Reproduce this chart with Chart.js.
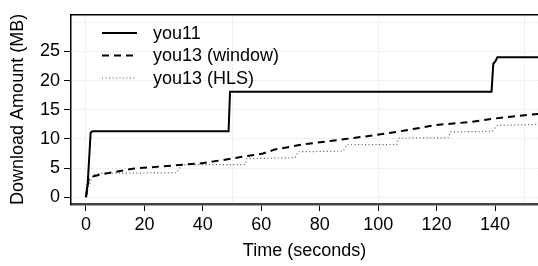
<!DOCTYPE html>
<html lang="en">
<head>
    <meta charset="utf-8" />
    <title>Download Amount</title>
    <script src="https://cdn.jsdelivr.net/npm/chart.js"></script>
    <style>
        html, body { margin: 0; padding: 0; background: #fff; }
    </style>
</head>
<body>
    <canvas id="Chart1" width="538" height="266"></canvas>

    <script>
        // values: [time (s), MB]
        var you11 = [[0, 0], [0.6, 2.5], [1.6, 11.1], [2.2, 11.3], [48.8, 11.3], [49.3, 18.1],
            [138.8, 18.1], [139.4, 22.9], [140.1, 23.3], [140.8, 24], [155, 24]];
        var you13Window = [[0, 0], [1, 3.4], [5, 3.9], [16, 4.9], [39, 5.8], [47, 6.4], [60.6, 7.5],
            [64.7, 8.2], [74.3, 9.05], [86, 9.8], [99.7, 10.7], [108.6, 11.4], [120, 12.4],
            [131.5, 12.9], [142.8, 13.7], [155, 14.3]];
        var you13HLS = [[0, 0], [1, 2], [2, 3.4], [3, 3.9], [5, 4.1], [31, 4.2], [32.8, 5.6],
            [54.5, 5.6], [55, 6.6], [71.6, 6.8], [72.6, 7.8], [88, 7.9], [89.3, 9.0], [106.4, 9.05],
            [107, 10.15], [124, 10.2], [124.7, 11.2], [139, 11.3], [140.6, 12.3], [155, 12.5]];

        var seriesLabels = ['you11', 'you13 (window)', 'you13 (HLS)'];
        var xTicks = [0, 20, 40, 60, 80, 100, 120, 140];
        var xGrid = [0, 50, 100, 150];
        var yTicks = [0, 5, 10, 15, 20, 25, 30];

        Chart.defaults.font.family = "'Liberation Sans', Arial, sans-serif";
        Chart.defaults.font.size = 18;
        Chart.defaults.color = '#000';

        function pts(arr) {
            return arr.map(function (p) { return { x: p[0], y: p[1] }; });
        }

        function setTicks(list) {
            return function (scale) {
                scale.ticks = list.map(function (v) { return { value: v }; });
            };
        }

        // legend drawn inside the plot, top left, like the original
        var insideLegend = {
            id: 'insideLegend',
            afterDatasetsDraw: function (chart) {
                var ctx = chart.ctx;
                ctx.save();
                chart.data.datasets.forEach(function (ds, i) {
                    var y = 33 + i * 22.5;
                    ctx.beginPath();
                    ctx.setLineDash(ds.borderDash || []);
                    ctx.strokeStyle = ds.borderColor;
                    ctx.lineWidth = ds.borderWidth;
                    ctx.moveTo(102, y);
                    ctx.lineTo(137, y);
                    ctx.stroke();
                    ctx.setLineDash([]);
                    ctx.fillStyle = '#000';
                    ctx.font = "18px 'Liberation Sans', Arial, sans-serif";
                    ctx.textBaseline = 'middle';
                    ctx.textAlign = 'left';
                    ctx.fillText(ds.label, 153, y + 1);
                });
                ctx.restore();
            }
        };

        var ctx = document.getElementById('Chart1').getContext('2d');
        var Chart1 = new Chart(ctx, {
            type: 'line',
            data: {
                datasets: [{
                    label: seriesLabels[0],
                    data: pts(you11),
                    borderColor: '#000',
                    borderWidth: 2,
                    fill: false
                }, {
                    label: seriesLabels[1],
                    data: pts(you13Window),
                    borderColor: '#000',
                    borderWidth: 2,
                    borderDash: [7, 5],
                    fill: false
                }, {
                    label: seriesLabels[2],
                    data: pts(you13HLS),
                    borderColor: '#555',
                    borderWidth: 1.2,
                    borderDash: [1, 2.5],
                    fill: false
                }]
            },
            options: {
                responsive: false,
                animation: false,
                devicePixelRatio: 1,
                layout: { padding: { top: 8, right: 0, left: 0, bottom: 0 } },
                elements: { point: { radius: 0 }, line: { tension: 0 } },
                plugins: { legend: { display: false }, tooltip: { enabled: false } },
                scales: {
                    x: {
                        type: 'linear',
                        position: 'bottom',
                        min: -5.13,
                        max: 154.7,
                        afterBuildTicks: setTicks(xTicks),
                        afterFit: function (scale) { scale.height = 62; },
                        grid: { drawOnChartArea: false, drawTicks: true, tickLength: 7, tickColor: '#000', tickWidth: 1 },
                        border: { display: true, color: '#444', width: 2.5 },
                        ticks: { padding: 3, maxRotation: 0, autoSkip: false },
                        title: { display: true, text: 'Time (seconds)', padding: { top: 0, bottom: 4 } }
                    },
                    x2: {
                        type: 'linear',
                        position: 'top',
                        min: -5.13,
                        max: 154.7,
                        afterBuildTicks: setTicks(xGrid),
                        afterFit: function (scale) { scale.height = 0; },
                        grid: { drawOnChartArea: true, drawTicks: false, color: '#e3e3e3', lineWidth: 1 },
                        border: { display: true, color: '#000', width: 1.5, dash: [2, 2] },
                        ticks: { display: false }
                    },
                    y: {
                        type: 'linear',
                        min: -1.16,
                        max: 31.29,
                        afterBuildTicks: setTicks(yTicks),
                        afterFit: function (scale) { scale.width = 71; },
                        grid: {
                            drawOnChartArea: true,
                            drawTicks: true,
                            tickLength: 7,
                            color: '#e3e3e3',
                            lineWidth: 1,
                            tickColor: function (c) {
                                return c.tick && c.tick.value === 30 ? 'rgba(0,0,0,0)' : '#000';
                            },
                            tickWidth: 1
                        },
                        border: { display: true, color: '#000', width: 1.5, dash: [2, 2] },
                        ticks: {
                            padding: 4,
                            callback: function (v) { return v === 30 ? '' : v; }
                        },
                        title: { display: true, text: 'Download Amount (MB)', padding: { top: 7, bottom: 0 } }
                    }
                }
            },
            plugins: [insideLegend]
        });
    </script>
</body>
</html>
